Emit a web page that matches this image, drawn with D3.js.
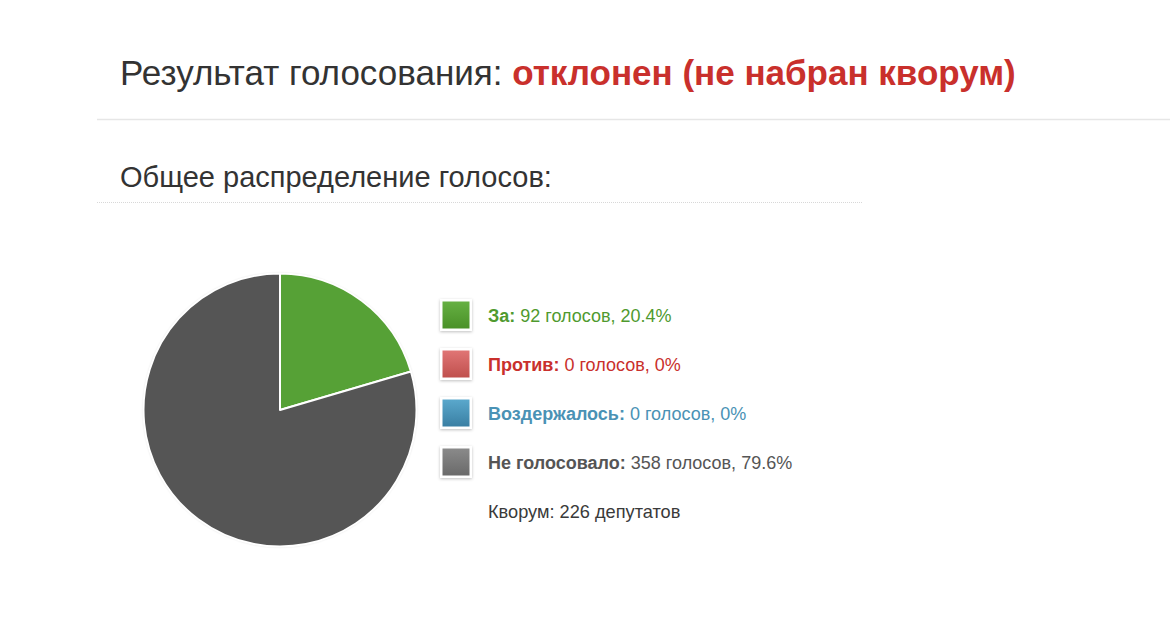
<!DOCTYPE html>
<html><head><meta charset="utf-8">
<script src="https://cdn.jsdelivr.net/npm/d3@7"></script>
<style>
html,body{margin:0;padding:0;background:#fff;}
svg{display:block;font-family:"Liberation Sans",Arial,Helvetica,sans-serif;}
</style></head>
<body>
<svg id="c" width="1170" height="619"></svg>
<script>
const titleText = "Результат голосования: ";
const titleResult = "отклонен (не набран кворум)";
const subtitleText = "Общее распределение голосов:";
const categories = ["За", "Против", "Воздержалось", "Не голосовало"];
const votes = [92, 0, 0, 358];
const percents = ["20.4%", "0%", "0%", "79.6%"];
const colors = ["#56a136", "#d9534f", "#3f8fb5", "#555555"];
const swatchTop = ["#66b043", "#e07575", "#5aa8cc", "#8a8a8a"];
const swatchBottom = ["#4a9128", "#c0504d", "#3a7fa3", "#6a6a6a"];
const textColors = ["#4f9a2f", "#c9302c", "#4a92b5", "#555555"];
const quorumText = "Кворум: 226 депутатов";

const svg = d3.select("#c");
const defs = svg.append("defs");
const f = defs.append("filter").attr("id","sh").attr("x","-30%").attr("y","-30%").attr("width","160%").attr("height","160%");
f.append("feDropShadow").attr("dx",0).attr("dy",1).attr("stdDeviation",1.5).attr("flood-color","#000").attr("flood-opacity",0.25);
const fp = defs.append("filter").attr("id","psh").attr("x","-10%").attr("y","-10%").attr("width","120%").attr("height","120%");
fp.append("feDropShadow").attr("dx",0).attr("dy",0).attr("stdDeviation",1).attr("flood-color","#000").attr("flood-opacity",0.25);
categories.forEach((c,i)=>{
  const g = defs.append("linearGradient").attr("id","g"+i).attr("x1",0).attr("y1",0).attr("x2",0).attr("y2",1);
  g.append("stop").attr("offset","0%").attr("stop-color",swatchTop[i]);
  g.append("stop").attr("offset","100%").attr("stop-color",swatchBottom[i]);
});

// Title
const t = svg.append("text").attr("x",120).attr("y",85).attr("font-size",35).attr("fill","#333");
t.append("tspan").text(titleText);
t.append("tspan").attr("font-weight","bold").attr("fill","#c9302c").text(titleResult);
svg.append("line").attr("x1",97).attr("x2",1170).attr("y1",119.5).attr("y2",119.5).attr("stroke","#e6e6e6").attr("stroke-width",1.5);

svg.append("text").attr("x",120).attr("y",187).attr("font-size",29).attr("fill","#333").text(subtitleText);
svg.append("line").attr("x1",97).attr("x2",862).attr("y1",202.5).attr("y2",202.5).attr("stroke","#d8d8d8").attr("stroke-width",1).attr("stroke-dasharray","1,1");

// Pie
const cx = 280, cy = 410, r = 136.5;
const pie = d3.pie().sort(null).value(d=>d.v);
const arc = d3.arc().innerRadius(0).outerRadius(r);
const data = categories.map((c,i)=>({c, v:votes[i], col:colors[i]}));
const pg = svg.append("g").attr("transform",`translate(${cx},${cy})`);
pg.append("circle").attr("r",r).attr("fill","#555").attr("filter","url(#psh)");
pg.selectAll("path").data(pie(data).filter(d=>d.data.v>0)).join("path")
  .attr("d",arc).attr("fill",d=>d.data.col).attr("stroke","#fff").attr("stroke-width",2).attr("stroke-linejoin","round");

// Legend
const y = d3.scalePoint().domain(categories).range([315,462]);
const lg = svg.selectAll("g.leg").data(data).join("g").attr("class","leg")
  .attr("transform",d=>`translate(456,${y(d.c)})`);
lg.append("rect").attr("x",-16).attr("y",-16).attr("width",32).attr("height",32).attr("fill","#fff").attr("filter","url(#sh)");
lg.append("rect").attr("x",-13.5).attr("y",-13.5).attr("width",27).attr("height",27).attr("fill",(d,i)=>`url(#g${i})`);
const lt = lg.append("text").attr("x",32).attr("y",6.5).attr("font-size",18).attr("fill",(d,i)=>textColors[i]);
lt.append("tspan").attr("font-weight","bold").text(d=>d.c+":");
lt.append("tspan").text((d,i)=>" "+d.v+" голосов, "+percents[i]);

svg.append("text").attr("x",488).attr("y",518).attr("font-size",18.2).attr("fill","#3a3a3a").text(quorumText);
</script>
</body></html>
